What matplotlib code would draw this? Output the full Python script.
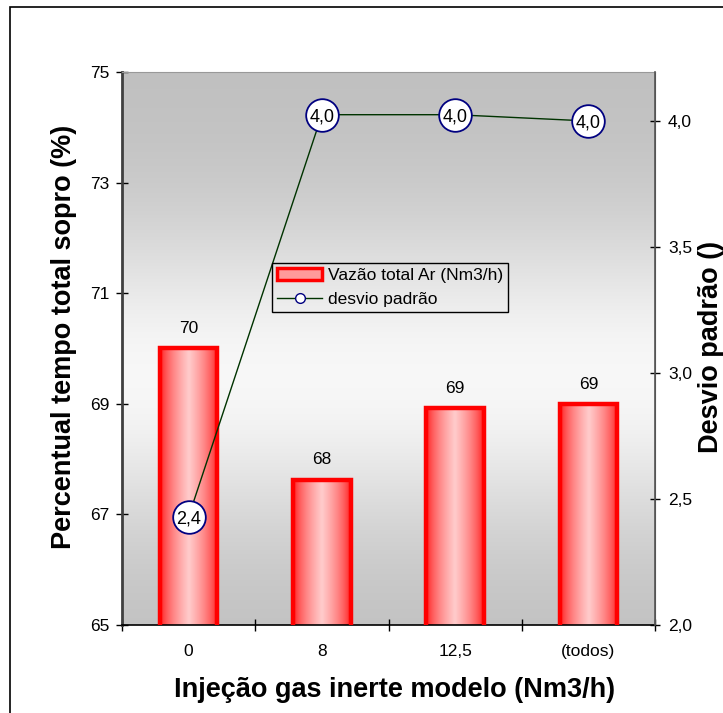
import numpy as np
import matplotlib
matplotlib.use("Agg")
import matplotlib.pyplot as plt
from matplotlib.patches import Rectangle, Patch
from matplotlib.lines import Line2D

plt.rcParams['font.family'] = ['Liberation Sans', 'DejaVu Sans']

categories = ["0", "8", "12,5", "(todos)"]
vazao = [70.0, 67.63, 68.93, 69.0]
vazao_labels = ["70", "68", "69", "69"]
desvio = [2.43, 4.025, 4.025, 4.0]
desvio_labels = ["2,4", "4,0", "4,0", "4,0"]
left_ticks = [65, 67, 69, 71, 73, 75]
right_ticks = [2.0, 2.5, 3.0, 3.5, 4.0]
right_tick_labels = ["2,0", "2,5", "3,0", "3,5", "4,0"]

FS = 12.5
L, R, T, B = 122, 655, 72, 625
AW, AH = R - L, B - T
fig = plt.figure(figsize=(7.23, 7.13), dpi=100)
ax = fig.add_axes([L/723, (713 - B)/713, AW/723, AH/713])
x = np.arange(len(categories))
xlim = (-0.5, len(categories) - 0.5)
ylim = (65, 75)
ax.set_xlim(*xlim)
ax.set_ylim(*ylim)

# background gradient gray -> white -> gray
t = np.linspace(0, 1, 256)
g = 0.75 + 0.22 * np.exp(-((t - 0.45) / 0.28) ** 2)
bg = np.dstack([g, g, g])[0][:, None, :].repeat(2, axis=1)
ax.imshow(bg, extent=[xlim[0], xlim[1], ylim[0], ylim[1]], aspect='auto',
          origin='lower', zorder=0, interpolation='bilinear')

# bars with horizontal gradient
bw = 0.43
s = np.linspace(0, 1, 128)
w = 1 - np.abs(s - 0.5) * 2
w = w ** 0.6
r = np.ones_like(s)
gg = 0.05 + 0.75 * w
bcol = np.dstack([r, gg, gg])[0][None, :, :].repeat(2, axis=0)
for xi, v, lab in zip(x, vazao, vazao_labels):
    ax.imshow(bcol, extent=[xi - bw/2, xi + bw/2, ylim[0], v], aspect='auto',
              zorder=2, interpolation='bilinear')
    ax.text(xi, v + 0.22, lab, ha='center', va='bottom', fontsize=FS, zorder=5)
ax.bar(x, vazao, width=bw, bottom=0, facecolor='none', edgecolor='#ff0000',
       linewidth=3.2, zorder=3)
ax.set_xlim(*xlim)
ax.set_ylim(*ylim)

ax.set_xticks(x)
ax.set_xticklabels(categories, fontsize=FS)
ax.tick_params(axis='x', which='major', length=0, pad=14)
ax.set_xticks(np.arange(len(categories) + 1) - 0.5, minor=True)
ax.tick_params(axis='x', which='minor', direction='inout', length=8, width=1)
ax.set_yticks(left_ticks)
ax.set_yticklabels([str(v) for v in left_ticks], fontsize=FS)
ax.tick_params(axis='y', direction='inout', length=8, width=1, pad=5)

ax.spines['left'].set_color('#404040')
ax.spines['left'].set_linewidth(2)
ax.spines['bottom'].set_color('black')
ax.spines['bottom'].set_linewidth(1.2)
ax.spines['top'].set_color('#999999')
ax.spines['right'].set_color('#555555')

ax.set_ylabel("Percentual tempo total sopro (%)", fontsize=19.5, fontweight='bold')
ax.yaxis.label.set_va('center')
ax.yaxis.set_label_coords((64 - L) / AW, (B - 337) / AH)
ax.set_xlabel("Injeção gas inerte modelo (Nm3/h)", fontsize=19.5, fontweight='bold')
ax.xaxis.label.set_va('center')
ax.xaxis.set_label_coords((395 - L) / AW, -(690 - B) / AH)

ax2 = ax.twinx()
ax2.set_ylim(2.0, 4.0 + 49/252)
ax2.plot(x, desvio, color='#003300', linewidth=1, marker='o', markersize=23.5,
         markerfacecolor='white', markeredgecolor='#000080', markeredgewidth=1.3, zorder=4)
for xi, v, lab in zip(x, desvio, desvio_labels):
    ax2.text(xi, v, lab, ha='center', va='center_baseline', fontsize=13, zorder=6)
ax2.set_yticks(right_ticks)
ax2.set_yticklabels(right_tick_labels, fontsize=FS)
ax2.tick_params(axis='y', direction='inout', length=7.2, width=1, pad=5.8)
ax2.spines['right'].set_color('#555555')
ax2.spines['right'].set_linewidth(1.2)
ax2.spines['top'].set_visible(False)
ax2.spines['left'].set_visible(False)
ax2.spines['bottom'].set_visible(False)
ax2.set_ylabel("Desvio padrão ()", fontsize=19.5, fontweight='bold', rotation=90)
ax2.yaxis.label.set_va('center')
ax2.yaxis.set_label_coords((711 - L) / AW, (B - 347) / AH)

handles = [Patch(facecolor='#ff9a9a', edgecolor='#ff0000', linewidth=2.5),
           Line2D([0], [0], color='#003300', linewidth=1, marker='o', markersize=7,
                  markerfacecolor='white', markeredgecolor='#000080')]
leg = ax2.legend(handles, ["Vazão total Ar (Nm3/h)", "desvio padrão"],
                 loc='upper left', bbox_to_anchor=((272 - L) / AW, (B - 263) / AH),
                 fontsize=FS, frameon=True, fancybox=False, framealpha=1,
                 borderpad=0.3, handlelength=2.6, handletextpad=0.3,
                 labelspacing=0.5, borderaxespad=0)
leg.get_frame().set_facecolor('none')
leg.get_frame().set_edgecolor('black')
leg.get_frame().set_linewidth(1)

fig.patches.append(Rectangle((10/723, -0.02), 1.2, (713-7)/713 + 0.02,
                             transform=fig.transFigure, fill=False,
                             edgecolor='black', linewidth=1.2))

fig.savefig("out.png", dpi=100)
